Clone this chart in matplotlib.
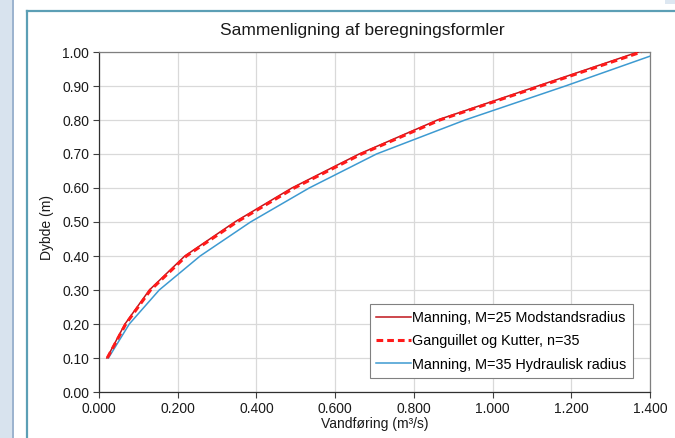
import matplotlib
matplotlib.use('Agg')
import matplotlib.pyplot as plt
from matplotlib.patches import Rectangle
from matplotlib.lines import Line2D
from matplotlib.ticker import FormatStrFormatter, MultipleLocator

plt.rcParams['font.family'] = ['Liberation Sans', 'DejaVu Sans']

# dybder (m) og vandfoering (m3/s) aflaest fra figuren
dybde = [0.1, 0.2, 0.3, 0.4, 0.5, 0.6, 0.7, 0.8, 0.9, 1.0]
manning_m25 = [0.020, 0.066, 0.128, 0.218, 0.345, 0.490, 0.661, 0.860, 1.115, 1.370]
ganguillet_n35 = [0.021, 0.068, 0.131, 0.222, 0.350, 0.496, 0.667, 0.866, 1.122, 1.378]
manning_m35 = [0.024, 0.077, 0.153, 0.257, 0.385, 0.534, 0.705, 0.930, 1.185, 1.430]

labels = ['Manning, M=25 Modstandsradius',
          'Ganguillet og Kutter, n=35',
          'Manning, M=35 Hydraulisk radius']

W, H = 675, 438
fig = plt.figure(figsize=(W / 100, H / 100), dpi=100)
fig.patch.set_facecolor('white')

# ramme rundt om diagrammet (som i regnearket)
fig.add_artist(Rectangle((0, 0), 12 / W, 1, transform=fig.transFigure,
                         facecolor='#d8e3ee', edgecolor='none'))
fig.add_artist(Line2D([12.5 / W, 12.5 / W], [0, 1], transform=fig.transFigure,
                      color='#8aa6c6', lw=1.2))
fig.add_artist(Line2D([26.5 / W, 26.5 / W], [0, 1 - 10.5 / H], transform=fig.transFigure,
                      color='#5c9fb5', lw=1.6))
fig.add_artist(Line2D([26.5 / W, 1], [1 - 10.5 / H, 1 - 10.5 / H], transform=fig.transFigure,
                      color='#5c9fb5', lw=1.6))
fig.add_artist(Rectangle((665 / W, 1 - 4 / H), 10 / W, 4 / H, transform=fig.transFigure,
                         facecolor='#dde7f1', edgecolor='none'))

left, right, top, bottom = 99, 650, 52, 392
ax = fig.add_axes([left / W, 1 - bottom / H, (right - left) / W, (bottom - top) / H])

ax.plot(manning_m25, dybde, color='#c0151b', lw=1.1, label=labels[0], zorder=4)
ax.plot(ganguillet_n35, dybde, color='#ff1a1a', lw=2.2, ls=(0, (2.2, 1.3)),
        label=labels[1], zorder=5)
ax.plot(manning_m35, dybde, color='#3d9ad1', lw=1.1, label=labels[2], zorder=3)

ax.set_xlim(0, 1.4)
ax.set_ylim(0, 1.0)
ax.xaxis.set_major_locator(MultipleLocator(0.2))
ax.yaxis.set_major_locator(MultipleLocator(0.1))
ax.xaxis.set_major_formatter(FormatStrFormatter('%.3f'))
ax.yaxis.set_major_formatter(FormatStrFormatter('%.2f'))
ax.grid(True, color='#d9d9d9', lw=0.9)
ax.set_axisbelow(True)
ax.tick_params(direction='out', length=4, width=0.8, colors='#404040',
               labelsize=10, labelcolor='#1a1a1a', pad=3)
for s in ['left', 'bottom']:
    ax.spines[s].set_color('#303030')
    ax.spines[s].set_linewidth(0.9)
for s in ['top', 'right']:
    ax.spines[s].set_color('#7f7f7f')
    ax.spines[s].set_linewidth(0.9)

fig.text(362 / W, 1 - 30 / H, 'Sammenligning af beregningsformler',
         ha='center', va='center', fontsize=12.5, color='#1a1a1a')
fig.text(47 / W, 1 - 228 / H, 'Dybde (m)', rotation=90,
         ha='center', va='center', fontsize=10, color='#1a1a1a')
fig.text(375 / W, 1 - 424 / H, 'Vandføring (m³/s)',
         ha='center', va='center', fontsize=10, color='#1a1a1a')

leg = ax.legend(loc='lower right', bbox_to_anchor=((633 - left) / (right - left), (bottom - 378) / (bottom - top)),
                borderaxespad=0, fancybox=False, framealpha=1, edgecolor='#808080',
                fontsize=10.4, handlelength=2.4, handletextpad=0.1, labelspacing=0.65,
                borderpad=0.45)
leg.get_frame().set_linewidth(0.8)

fig.savefig('out.png', dpi=100)
